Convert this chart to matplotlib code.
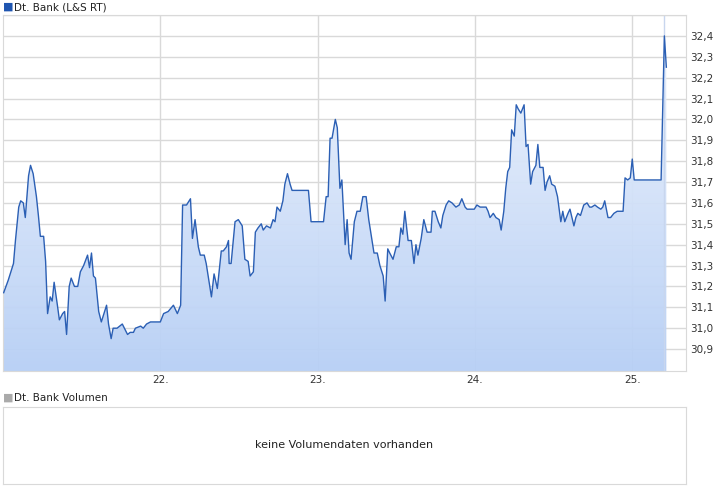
import matplotlib
matplotlib.use("Agg")
import matplotlib.pyplot as plt
import numpy as np
from matplotlib.patches import Polygon

hours = [0.1,0.8,1.6,1.9,2.4,2.7,3.1,3.4,3.9,4.2,4.6,5.1,5.4,5.7,6.2,6.5,6.8,7.2,7.5,7.8,8.3,8.6,9.1,9.4,9.7,10.1,10.4,10.9,11.4,11.8,12.3,12.9,13.2,13.5,13.8,14.1,14.6,15.0,15.5,15.8,16.1,16.5,16.8,17.4,18.2,19.0,19.4,19.9,20.2,21.0,21.4,21.9,22.5,23.7,24.0,
 24.5,25.2,26.0,26.6,27.1,27.4,28.0,28.6,28.9,29.3,29.8,30.1,30.7,31.0,31.3,31.8,32.2,32.7,33.3,33.6,34.1,34.4,34.5,34.8,35.4,35.9,36.5,36.9,37.4,37.7,38.2,38.5,38.9,39.4,39.7,40.2,40.8,41.2,41.5,41.8,42.3,42.7,43.0,43.4,43.8,44.1,45.3,46.6,47.0,48.4,48.9,49.3,49.6,49.9,50.2,50.7,51.0,51.4,51.7,52.2,52.5,52.8,53.1,53.6,54.0,
 54.5,54.9,55.4,55.8,56.3,56.6,57.1,57.5,58.0,58.3,58.7,59.0,59.5,60.0,60.4,60.7,61.0,61.3,61.8,62.3,62.7,63.0,63.3,63.8,64.2,64.7,65.3,65.5,65.9,66.4,66.8,67.1,67.6,68.0,68.5,69.1,69.6,70.0,70.5,70.8,71.1,71.6,71.9,72.3,72.8,73.2,73.7,74.0,74.3,74.8,75.2,75.7,76.0,76.4,76.7,77.0,77.3,77.6,78.0,78.3,78.6,79.0,79.5,79.8,80.1,80.5,80.8,81.3,81.6,81.9,82.4,82.7,83.0,83.4,83.7,84.2,84.6,85.1,85.4,85.7,86.2,86.5,87.1,87.4,87.7,88.1,88.6,89.1,89.5,89.8,90.3,90.7,91.2,91.5,91.8,92.3,92.7,93.2,93.7,94.1,94.6,94.9,95.3,95.7,96.0,96.3,97.2,98.7,100.4,100.9,101.2]
prices = [31.17,31.23,31.31,31.42,31.58,31.61,31.60,31.53,31.73,31.78,31.74,31.63,31.54,31.44,31.44,31.32,31.07,31.15,31.13,31.22,31.11,31.04,31.07,31.08,30.97,31.20,31.24,31.20,31.20,31.27,31.30,31.35,31.29,31.36,31.25,31.24,31.08,31.03,31.08,31.11,31.02,30.95,31.00,31.00,31.02,30.97,30.98,30.98,31.00,31.01,31.00,31.02,31.03,31.03,31.03,
 31.07,31.08,31.11,31.07,31.11,31.59,31.59,31.62,31.43,31.52,31.39,31.35,31.35,31.31,31.25,31.15,31.26,31.19,31.37,31.37,31.39,31.42,31.31,31.31,31.51,31.52,31.49,31.33,31.32,31.25,31.27,31.46,31.48,31.50,31.47,31.49,31.48,31.52,31.51,31.58,31.56,31.61,31.69,31.74,31.69,31.66,31.66,31.66,31.51,31.51,31.51,31.63,31.63,31.91,31.91,32.00,31.96,31.67,31.71,31.40,31.52,31.36,31.33,31.51,31.56,
 31.56,31.63,31.63,31.52,31.42,31.36,31.36,31.30,31.25,31.13,31.38,31.36,31.33,31.39,31.39,31.48,31.45,31.56,31.42,31.42,31.31,31.40,31.35,31.43,31.52,31.46,31.46,31.56,31.56,31.51,31.48,31.54,31.59,31.61,31.60,31.58,31.59,31.62,31.58,31.57,31.57,31.57,31.57,31.59,31.58,31.58,31.58,31.56,31.53,31.55,31.53,31.52,31.47,31.56,31.67,31.75,31.77,31.95,31.92,32.07,32.05,32.03,32.07,31.87,31.88,31.69,31.75,31.78,31.88,31.77,31.77,31.66,31.70,31.73,31.69,31.68,31.63,31.51,31.56,31.51,31.55,31.57,31.49,31.53,31.55,31.54,31.59,31.60,31.58,31.58,31.59,31.58,31.57,31.58,31.61,31.53,31.53,31.55,31.56,31.56,31.56,31.72,31.71,31.72,31.81,31.71,31.71,31.71,31.71,32.40,32.25]

day_ticks = [24, 48, 72, 96]
day_labels = ["22.", "23.", "24.", "25."]
y_ticks = [30.9,31.0,31.1,31.2,31.3,31.4,31.5,31.6,31.7,31.8,31.9,32.0,32.1,32.2,32.3,32.4]

W, H = 726, 496
fig = plt.figure(figsize=(W/100, H/100), dpi=100)
plt.rcParams['font.family'] = ['DejaVu Sans']
grid = '#d9d9d9'
ax = fig.add_axes([3/W, 1-371/H, 683/W, 356/H])
ymin, ymax = 30.795, 32.5
ax.set_xlim(0, 104.2); ax.set_ylim(ymin, ymax)
for s in ax.spines.values():
    s.set_color(grid)
ax.set_yticks(y_ticks + [32.5])
ax.set_yticklabels([f"{v:.1f}".replace('.', ',') for v in y_ticks] + [""])
ax.yaxis.tick_right()
ax.set_xticks(day_ticks); ax.set_xticklabels(day_labels)
ax.tick_params(length=0, labelsize=7.5, colors='#333333', pad=3)
ax.grid(True, color=grid, lw=1)
ax.set_axisbelow(True)

verts = [(hours[0], ymin)] + list(zip(hours, prices)) + [(hours[-1], ymin)]
poly = Polygon(verts, closed=True, facecolor='none', edgecolor='none')
ax.add_patch(poly)
grad = np.linspace(0, 1, 256).reshape(-1, 1)
from matplotlib.colors import LinearSegmentedColormap
cmap = LinearSegmentedColormap.from_list('g', ['#b7cff5', '#eef4fd'])
im = ax.imshow(grad, extent=[0, 104.2, ymin, 32.45], origin='lower', cmap=cmap,
               aspect='auto', zorder=1, alpha=0.95)
im.set_clip_path(poly)
ax.axvline(hours[-2], color='#c8d6ee', lw=1, zorder=1.5)
ax.plot(hours, prices, color='#2b5fb4', lw=1, zorder=3)

fig.text(3/W, 1-7/H, "\u25A0", color='#1f55b0', fontsize=8, va='center')
fig.text(14/W, 1-7/H, "Dt. Bank (L&S RT)", fontsize=7.5, va='center', color='#222222')
fig.text(3/W, 1-398/H, "\u25A0", color='#aaaaaa', fontsize=8, va='center')
fig.text(14/W, 1-398/H, "Dt. Bank Volumen", fontsize=7.5, va='center', color='#222222')

ax2 = fig.add_axes([3/W, 1-484/H, 683/W, 77/H])
ax2.set_xticks([]); ax2.set_yticks([])
for s in ax2.spines.values():
    s.set_color(grid)
ax2.text(0.5, 0.5, "keine Volumendaten vorhanden", transform=ax2.transAxes,
         ha='center', va='center', fontsize=8, color='#222222')

fig.savefig("out.png", dpi=100)
